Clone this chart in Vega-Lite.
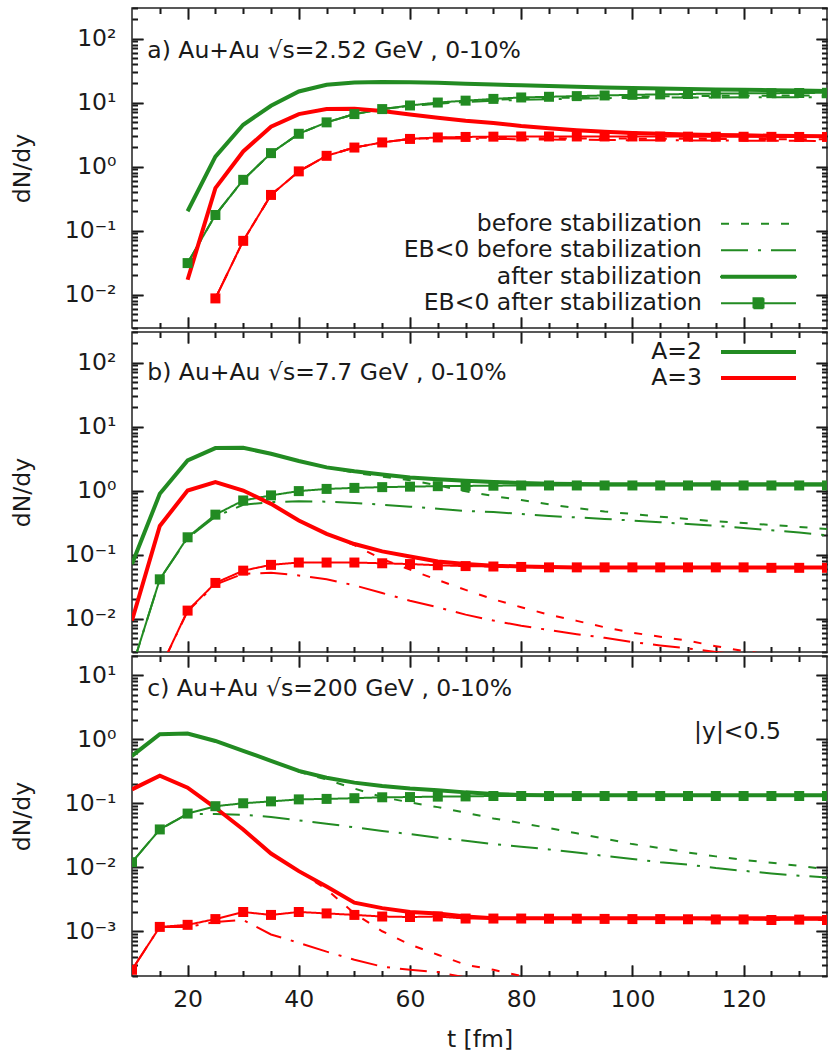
{
  "$schema": "https://vega.github.io/schema/vega-lite/v6.json",
  "background": "white",
  "padding": {"left": 9, "top": 6, "right": 1, "bottom": 4},
  "spacing": 0,
  "config": {
    "font": "DejaVu Sans",
    "view": {"stroke": "#222222", "strokeWidth": 1.5},
    "axis": {"grid": false, "domain": false, "ticks": true, "tickColor": "#1a1a1a", "tickWidth": 1.6, "gridColor": "#1a1a1a", "gridWidth": 1.6, "gridOpacity": 1, "labelFont": "DejaVu Sans", "labelFontSize": 23.5, "labelColor": "#1a1a1a", "titleFont": "DejaVu Sans", "titleFontSize": 23.5, "titleFontWeight": "normal", "titleColor": "#1a1a1a"},
    "legend": {"labelFont": "DejaVu Sans", "labelFontSize": 23.5, "labelColor": "#1a1a1a", "labelLimit": 600, "padding": 0}
  },
  "datasets": {
    "curves": [
      {"p":"a","A":2,"t":20,"a":0.2,"b":0.031,"eb":0.031,"ea":0.031},
      {"p":"a","A":2,"t":25,"a":1.43,"b":0.175,"eb":0.175,"ea":0.175},
      {"p":"a","A":2,"t":30,"a":4.5,"b":0.62,"eb":0.62,"ea":0.62},
      {"p":"a","A":2,"t":35,"a":8.9,"b":1.62,"eb":1.62,"ea":1.62},
      {"p":"a","A":2,"t":40,"a":14.9,"b":3.25,"eb":3.25,"ea":3.25},
      {"p":"a","A":2,"t":45,"a":19,"b":4.9,"eb":4.9,"ea":4.9},
      {"p":"a","A":2,"t":50,"a":20.6,"b":6.6,"eb":6.6,"ea":6.6},
      {"p":"a","A":2,"t":55,"a":21,"b":7.9,"eb":7.9,"ea":7.9},
      {"p":"a","A":2,"t":60,"a":20.8,"b":8.9,"eb":8.8,"ea":9.0},
      {"p":"a","A":2,"t":65,"a":20.3,"b":9.8,"eb":9.6,"ea":10.0},
      {"p":"a","A":2,"t":70,"a":19.7,"b":10.4,"eb":10.2,"ea":10.7},
      {"p":"a","A":2,"t":75,"a":19.1,"b":11.0,"eb":10.7,"ea":11.4},
      {"p":"a","A":2,"t":80,"a":18.6,"b":11.4,"eb":11.0,"ea":12.0},
      {"p":"a","A":2,"t":85,"a":18.1,"b":11.7,"eb":11.3,"ea":12.3},
      {"p":"a","A":2,"t":90,"a":17.6,"b":12.0,"eb":11.5,"ea":12.6},
      {"p":"a","A":2,"t":95,"a":17.2,"b":12.2,"eb":11.7,"ea":12.9},
      {"p":"a","A":2,"t":100,"a":16.9,"b":12.4,"eb":11.8,"ea":13.2},
      {"p":"a","A":2,"t":105,"a":16.6,"b":12.5,"eb":11.9,"ea":13.4},
      {"p":"a","A":2,"t":110,"a":16.3,"b":12.6,"eb":12.0,"ea":13.6},
      {"p":"a","A":2,"t":115,"a":16.0,"b":12.7,"eb":12.0,"ea":13.8},
      {"p":"a","A":2,"t":120,"a":15.8,"b":12.8,"eb":12.1,"ea":13.9},
      {"p":"a","A":2,"t":125,"a":15.6,"b":12.8,"eb":12.1,"ea":14.0},
      {"p":"a","A":2,"t":130,"a":15.4,"b":12.9,"eb":12.1,"ea":14.1},
      {"p":"a","A":2,"t":135,"a":15.2,"b":12.9,"eb":12.1,"ea":14.2},
      {"p":"a","A":3,"t":20,"a":0.017},
      {"p":"a","A":3,"t":25,"a":0.46,"b":0.0087,"eb":0.0087,"ea":0.0087},
      {"p":"a","A":3,"t":30,"a":1.72,"b":0.069,"eb":0.069,"ea":0.069},
      {"p":"a","A":3,"t":35,"a":4.2,"b":0.36,"eb":0.36,"ea":0.36},
      {"p":"a","A":3,"t":40,"a":6.6,"b":0.84,"eb":0.84,"ea":0.84},
      {"p":"a","A":3,"t":45,"a":7.9,"b":1.47,"eb":1.47,"ea":1.47},
      {"p":"a","A":3,"t":50,"a":8.0,"b":1.98,"eb":1.98,"ea":1.98},
      {"p":"a","A":3,"t":55,"a":7.4,"b":2.38,"eb":2.38,"ea":2.38},
      {"p":"a","A":3,"t":60,"a":6.5,"b":2.7,"eb":2.7,"ea":2.7},
      {"p":"a","A":3,"t":65,"a":5.8,"b":2.8,"eb":2.75,"ea":2.85},
      {"p":"a","A":3,"t":70,"a":5.2,"b":2.82,"eb":2.74,"ea":2.9},
      {"p":"a","A":3,"t":75,"a":4.8,"b":2.8,"eb":2.7,"ea":2.93},
      {"p":"a","A":3,"t":80,"a":4.3,"b":2.78,"eb":2.67,"ea":2.95},
      {"p":"a","A":3,"t":85,"a":3.95,"b":2.76,"eb":2.64,"ea":2.95},
      {"p":"a","A":3,"t":90,"a":3.7,"b":2.75,"eb":2.62,"ea":2.95},
      {"p":"a","A":3,"t":95,"a":3.5,"b":2.74,"eb":2.6,"ea":2.95},
      {"p":"a","A":3,"t":100,"a":3.35,"b":2.73,"eb":2.58,"ea":2.95},
      {"p":"a","A":3,"t":105,"a":3.25,"b":2.72,"eb":2.57,"ea":2.94},
      {"p":"a","A":3,"t":110,"a":3.18,"b":2.71,"eb":2.56,"ea":2.93},
      {"p":"a","A":3,"t":115,"a":3.12,"b":2.7,"eb":2.55,"ea":2.92},
      {"p":"a","A":3,"t":120,"a":3.07,"b":2.69,"eb":2.54,"ea":2.92},
      {"p":"a","A":3,"t":125,"a":3.03,"b":2.68,"eb":2.53,"ea":2.91},
      {"p":"a","A":3,"t":130,"a":3.0,"b":2.67,"eb":2.52,"ea":2.9},
      {"p":"a","A":3,"t":135,"a":2.97,"b":2.66,"eb":2.5,"ea":2.9},
      {"p":"b","A":2,"t":10,"a":0.071,"b":0.071,"eb":0.0017,"ea":0.0017},
      {"p":"b","A":2,"t":15,"a":0.89,"b":0.89,"eb":0.041,"ea":0.041},
      {"p":"b","A":2,"t":20,"a":2.95,"b":2.95,"eb":0.18,"ea":0.186},
      {"p":"b","A":2,"t":25,"a":4.6,"b":4.6,"eb":0.39,"ea":0.42},
      {"p":"b","A":2,"t":30,"a":4.65,"b":4.65,"eb":0.6,"ea":0.70},
      {"p":"b","A":2,"t":35,"a":3.75,"b":3.75,"eb":0.66,"ea":0.84},
      {"p":"b","A":2,"t":40,"a":2.9,"b":2.9,"eb":0.68,"ea":0.98},
      {"p":"b","A":2,"t":45,"a":2.3,"b":2.3,"eb":0.67,"ea":1.06},
      {"p":"b","A":2,"t":50,"a":2.0,"b":1.9,"eb":0.64,"ea":1.1},
      {"p":"b","A":2,"t":55,"a":1.78,"b":1.65,"eb":0.6,"ea":1.13},
      {"p":"b","A":2,"t":60,"a":1.6,"b":1.45,"eb":0.56,"ea":1.15},
      {"p":"b","A":2,"t":65,"a":1.5,"b":1.2,"eb":0.52,"ea":1.17},
      {"p":"b","A":2,"t":70,"a":1.42,"b":0.97,"eb":0.48,"ea":1.18},
      {"p":"b","A":2,"t":75,"a":1.36,"b":0.82,"eb":0.46,"ea":1.19},
      {"p":"b","A":2,"t":80,"a":1.31,"b":0.71,"eb":0.43,"ea":1.2},
      {"p":"b","A":2,"t":85,"a":1.28,"b":0.61,"eb":0.4,"ea":1.2},
      {"p":"b","A":2,"t":90,"a":1.26,"b":0.53,"eb":0.38,"ea":1.2},
      {"p":"b","A":2,"t":95,"a":1.25,"b":0.47,"eb":0.36,"ea":1.2},
      {"p":"b","A":2,"t":100,"a":1.25,"b":0.43,"eb":0.34,"ea":1.2},
      {"p":"b","A":2,"t":105,"a":1.25,"b":0.39,"eb":0.32,"ea":1.2},
      {"p":"b","A":2,"t":110,"a":1.25,"b":0.36,"eb":0.3,"ea":1.2},
      {"p":"b","A":2,"t":115,"a":1.25,"b":0.33,"eb":0.28,"ea":1.2},
      {"p":"b","A":2,"t":120,"a":1.25,"b":0.31,"eb":0.26,"ea":1.2},
      {"p":"b","A":2,"t":125,"a":1.25,"b":0.29,"eb":0.24,"ea":1.2},
      {"p":"b","A":2,"t":130,"a":1.25,"b":0.27,"eb":0.22,"ea":1.2},
      {"p":"b","A":2,"t":135,"a":1.25,"b":0.25,"eb":0.2,"ea":1.2},
      {"p":"b","A":3,"t":10,"a":0.0093,"b":0.0093},
      {"p":"b","A":3,"t":15,"a":0.28,"b":0.28,"eb":0.0016,"ea":0.0016},
      {"p":"b","A":3,"t":20,"a":1.0,"b":1.0,"eb":0.013,"ea":0.0133},
      {"p":"b","A":3,"t":25,"a":1.35,"b":1.35,"eb":0.034,"ea":0.036},
      {"p":"b","A":3,"t":30,"a":1.0,"b":1.0,"eb":0.05,"ea":0.056},
      {"p":"b","A":3,"t":35,"a":0.62,"b":0.62,"eb":0.052,"ea":0.069},
      {"p":"b","A":3,"t":40,"a":0.34,"b":0.34,"eb":0.047,"ea":0.075},
      {"p":"b","A":3,"t":45,"a":0.21,"b":0.21,"eb":0.041,"ea":0.075},
      {"p":"b","A":3,"t":50,"a":0.146,"b":0.14,"eb":0.033,"ea":0.075},
      {"p":"b","A":3,"t":55,"a":0.112,"b":0.085,"eb":0.025,"ea":0.073},
      {"p":"b","A":3,"t":60,"a":0.093,"b":0.058,"eb":0.019,"ea":0.071},
      {"p":"b","A":3,"t":65,"a":0.078,"b":0.04,"eb":0.015,"ea":0.068},
      {"p":"b","A":3,"t":70,"a":0.071,"b":0.028,"eb":0.0115,"ea":0.066},
      {"p":"b","A":3,"t":75,"a":0.067,"b":0.02,"eb":0.0093,"ea":0.065},
      {"p":"b","A":3,"t":80,"a":0.065,"b":0.015,"eb":0.0077,"ea":0.064},
      {"p":"b","A":3,"t":85,"a":0.064,"b":0.0115,"eb":0.0066,"ea":0.063},
      {"p":"b","A":3,"t":90,"a":0.063,"b":0.0092,"eb":0.0057,"ea":0.063},
      {"p":"b","A":3,"t":95,"a":0.063,"b":0.0073,"eb":0.005,"ea":0.063},
      {"p":"b","A":3,"t":100,"a":0.063,"b":0.006,"eb":0.0043,"ea":0.063},
      {"p":"b","A":3,"t":105,"a":0.063,"b":0.0052,"eb":0.0038,"ea":0.063},
      {"p":"b","A":3,"t":110,"a":0.063,"b":0.0045,"eb":0.0034,"ea":0.063},
      {"p":"b","A":3,"t":115,"a":0.063,"b":0.0037,"eb":0.003,"ea":0.063},
      {"p":"b","A":3,"t":120,"a":0.063,"b":0.0031,"eb":0.0027,"ea":0.063},
      {"p":"b","A":3,"t":125,"a":0.063,"b":0.0027,"eb":0.0024,"ea":0.062},
      {"p":"b","A":3,"t":130,"a":0.063,"b":0.0024,"eb":0.0021,"ea":0.062},
      {"p":"b","A":3,"t":135,"a":0.063,"b":0.0021,"eb":0.0019,"ea":0.062},
      {"p":"c","A":2,"t":10,"a":0.55,"b":0.55,"eb":0.012,"ea":0.012},
      {"p":"c","A":2,"t":15,"a":1.2,"b":1.2,"eb":0.039,"ea":0.039},
      {"p":"c","A":2,"t":20,"a":1.23,"b":1.23,"eb":0.068,"ea":0.069},
      {"p":"c","A":2,"t":25,"a":0.94,"b":0.94,"eb":0.068,"ea":0.09},
      {"p":"c","A":2,"t":30,"a":0.66,"b":0.66,"eb":0.066,"ea":0.1},
      {"p":"c","A":2,"t":35,"a":0.46,"b":0.46,"eb":0.061,"ea":0.107},
      {"p":"c","A":2,"t":40,"a":0.32,"b":0.31,"eb":0.054,"ea":0.115},
      {"p":"c","A":2,"t":45,"a":0.25,"b":0.235,"eb":0.048,"ea":0.117},
      {"p":"c","A":2,"t":50,"a":0.21,"b":0.17,"eb":0.042,"ea":0.12},
      {"p":"c","A":2,"t":55,"a":0.186,"b":0.125,"eb":0.037,"ea":0.124},
      {"p":"c","A":2,"t":60,"a":0.17,"b":0.103,"eb":0.033,"ea":0.125},
      {"p":"c","A":2,"t":65,"a":0.16,"b":0.087,"eb":0.029,"ea":0.127},
      {"p":"c","A":2,"t":70,"a":0.148,"b":0.071,"eb":0.026,"ea":0.128},
      {"p":"c","A":2,"t":75,"a":0.14,"b":0.058,"eb":0.023,"ea":0.13},
      {"p":"c","A":2,"t":80,"a":0.135,"b":0.049,"eb":0.021,"ea":0.13},
      {"p":"c","A":2,"t":85,"a":0.133,"b":0.041,"eb":0.019,"ea":0.13},
      {"p":"c","A":2,"t":90,"a":0.133,"b":0.034,"eb":0.017,"ea":0.13},
      {"p":"c","A":2,"t":95,"a":0.133,"b":0.028,"eb":0.015,"ea":0.13},
      {"p":"c","A":2,"t":100,"a":0.133,"b":0.023,"eb":0.0135,"ea":0.13},
      {"p":"c","A":2,"t":105,"a":0.133,"b":0.02,"eb":0.012,"ea":0.13},
      {"p":"c","A":2,"t":110,"a":0.133,"b":0.017,"eb":0.011,"ea":0.13},
      {"p":"c","A":2,"t":115,"a":0.133,"b":0.0148,"eb":0.0097,"ea":0.13},
      {"p":"c","A":2,"t":120,"a":0.133,"b":0.013,"eb":0.0088,"ea":0.13},
      {"p":"c","A":2,"t":125,"a":0.133,"b":0.0118,"eb":0.008,"ea":0.13},
      {"p":"c","A":2,"t":130,"a":0.133,"b":0.0105,"eb":0.0074,"ea":0.13},
      {"p":"c","A":2,"t":135,"a":0.133,"b":0.0093,"eb":0.0069,"ea":0.13},
      {"p":"c","A":3,"t":10,"a":0.165,"b":0.165,"eb":0.00025,"ea":0.00025},
      {"p":"c","A":3,"t":15,"a":0.27,"b":0.27,"eb":0.00117,"ea":0.00117},
      {"p":"c","A":3,"t":20,"a":0.175,"b":0.175,"eb":0.00117,"ea":0.00126},
      {"p":"c","A":3,"t":25,"a":0.085,"b":0.085,"eb":0.0014,"ea":0.00155},
      {"p":"c","A":3,"t":30,"a":0.039,"b":0.039,"eb":0.0015,"ea":0.002},
      {"p":"c","A":3,"t":35,"a":0.0164,"b":0.0164,"eb":0.00089,"ea":0.0018},
      {"p":"c","A":3,"t":40,"a":0.0087,"b":0.0087,"eb":0.00066,"ea":0.002},
      {"p":"c","A":3,"t":45,"a":0.005,"b":0.0045,"eb":0.00048,"ea":0.0019},
      {"p":"c","A":3,"t":50,"a":0.0028,"b":0.0019,"eb":0.00036,"ea":0.0018},
      {"p":"c","A":3,"t":55,"a":0.0023,"b":0.001,"eb":0.00028,"ea":0.0017},
      {"p":"c","A":3,"t":60,"a":0.002,"b":0.00062,"eb":0.00025,"ea":0.00167},
      {"p":"c","A":3,"t":65,"a":0.0019,"b":0.00043,"eb":0.00023,"ea":0.0017},
      {"p":"c","A":3,"t":70,"a":0.0017,"b":0.0003,"eb":0.00019,"ea":0.00158},
      {"p":"c","A":3,"t":75,"a":0.0016,"b":0.00025,"eb":0.00016,"ea":0.00158},
      {"p":"c","A":3,"t":80,"a":0.0016,"b":0.0002,"eb":0.00014,"ea":0.00158},
      {"p":"c","A":3,"t":85,"a":0.0016,"b":0.00017,"ea":0.00157},
      {"p":"c","A":3,"t":90,"a":0.0016,"b":0.00015,"ea":0.00157},
      {"p":"c","A":3,"t":95,"a":0.0016,"ea":0.00156},
      {"p":"c","A":3,"t":100,"a":0.0016,"ea":0.00155},
      {"p":"c","A":3,"t":105,"a":0.0016,"ea":0.00155},
      {"p":"c","A":3,"t":110,"a":0.0016,"ea":0.00154},
      {"p":"c","A":3,"t":115,"a":0.0016,"ea":0.00153},
      {"p":"c","A":3,"t":120,"a":0.0016,"ea":0.00153},
      {"p":"c","A":3,"t":125,"a":0.0016,"ea":0.0015},
      {"p":"c","A":3,"t":130,"a":0.0016,"ea":0.00152},
      {"p":"c","A":3,"t":135,"a":0.0016,"ea":0.0015}
    ]
  },
  "resolve": {"scale": {"color": "independent", "stroke": "independent", "strokeDash": "independent"}, "legend": {"color": "independent", "stroke": "independent", "strokeDash": "independent"}},
  "vconcat": [
    {
      "width": 695, "height": 320,
      "resolve": {"axis": {"x": "independent", "y": "independent"}},
      "layer": [
        {
          "data": {"name": "curves"},
          "transform": [{"filter": "datum.p == 'a'"}, {"fold": ["a", "b", "eb", "ea"], "as": ["s", "v"]}, {"filter": "isValid(datum.v) && datum.s != 'a'"}],
          "mark": {"type": "line", "strokeWidth": 2, "clip": true},
          "encoding": {
            "x": {"field": "t", "type": "quantitative", "scale": {"domain": [10, 135], "nice": false, "zero": false}, "axis": {"orient": "bottom", "values": [20, 40, 60, 80, 100, 120], "tickSize": -11, "grid": true, "gridDash": [11, 3000], "labels": false, "title": null}},
            "y": {"field": "v", "type": "quantitative", "scale": {"type": "log", "domain": [0.003, 300], "nice": false}, "axis": {"orient": "left", "values": [0.01, 0.1, 1, 10, 100], "tickSize": -11, "grid": true, "gridDash": [11, 3000], "labelPadding": 27, "labelExpr": "datum.value >= 50 ? '10²' : datum.value >= 5 ? '10¹' : datum.value >= 0.5 ? '10⁰' : datum.value >= 0.05 ? '10⁻¹' : datum.value >= 0.005 ? '10⁻²' : '10⁻³'", "title": "dN/dy", "titlePadding": 30}},
            "color": {"field": "A", "type": "nominal", "scale": {"domain": [2, 3], "range": ["#228b22", "#ff0000"]}, "legend": null},
            "strokeDash": {"field": "s", "type": "nominal", "scale": {"domain": ["b", "eb", "a", "ea"], "range": [[8, 12], [27, 10, 3, 10], [1, 0], [1, 0]]},
              "legend": {
                "orient": "none", "legendX": 614.75, "legendY": 204, "title": null, "padding": 0,
                "symbolType": "M-3.75,0H3.75", "symbolSize": 400, "symbolStrokeWidth": 2, "symbolStrokeColor": "#228b22",
                "labelAlign": "right", "labelOffset": -68.25, "rowPadding": 1.5, "labelLimit": 600,
                "labelExpr": "datum.value == 'b' ? 'before stabilization' : datum.value == 'eb' ? 'EB<0 before stabilization' : datum.value == 'a' ? 'after stabilization' : 'EB<0 after stabilization'",
                "encode": {"symbols": {"update": {
                  "shape": {"signal": "datum.value == 'a' ? 'M-3.75,-0.1H3.75V0.1H-3.75Z' : datum.value == 'ea' ? 'M-3.75,0H3.75M-0.5,-0.5H0.5V0.5H-0.5Z' : 'M-3.75,0H3.75'"},
                  "fill": {"signal": "datum.value == 'a' || datum.value == 'ea' ? '#228b22' : 'transparent'"},
                  "stroke": {"value": "#228b22"},
                  "opacity": {"value": 1}
                }}}
              }
            }
          }
        },
        {
          "data": {"name": "curves"},
          "transform": [{"filter": "datum.p == 'a'"}, {"fold": ["a", "b", "eb", "ea"], "as": ["s", "v"]}, {"filter": "isValid(datum.v) && datum.s == 'a'"}],
          "mark": {"type": "line", "strokeWidth": 4, "clip": true},
          "encoding": {
            "x": {"field": "t", "type": "quantitative", "scale": {"domain": [10, 135], "nice": false, "zero": false}, "axis": {"orient": "top", "values": [20, 40, 60, 80, 100, 120], "tickSize": -11, "grid": true, "gridDash": [11, 3000], "labels": false, "title": null}},
            "y": {"field": "v", "type": "quantitative", "scale": {"type": "log", "domain": [0.003, 300], "nice": false}, "axis": {"orient": "right", "values": [0.01, 0.1, 1, 10, 100], "tickSize": -11, "grid": true, "gridDash": [11, 3000], "labels": false, "title": null}},
            "color": {"field": "A", "type": "nominal", "scale": {"domain": [2, 3], "range": ["#228b22", "#ff0000"]}, "legend": null}
          }
        },
        {
          "data": {"name": "curves"},
          "transform": [{"filter": "datum.p == 'a'"}, {"fold": ["a", "b", "eb", "ea"], "as": ["s", "v"]}, {"filter": "isValid(datum.v) && datum.s == 'ea'"}],
          "mark": {"type": "point", "shape": "square", "filled": true, "size": 100, "opacity": 1, "clip": true},
          "encoding": {
            "x": {"field": "t", "type": "quantitative", "scale": {"domain": [10, 135], "nice": false, "zero": false}, "axis": {"orient": "bottom", "values": [15, 25, 30, 35, 45, 50, 55, 65, 70, 75, 85, 90, 95, 105, 110, 115, 125, 130], "tickSize": -5.5, "grid": true, "gridDash": [5.5, 3000], "labels": false, "title": null}},
            "y": {"field": "v", "type": "quantitative", "scale": {"type": "log", "domain": [0.003, 300], "nice": false}, "axis": {"orient": "left", "values": [0.003, 0.004, 0.005, 0.006, 0.007, 0.008, 0.009, 0.02, 0.03, 0.04, 0.05, 0.06, 0.07, 0.08, 0.09, 0.2, 0.3, 0.4, 0.5, 0.6, 0.7, 0.8, 0.9, 2, 3, 4, 5, 6, 7, 8, 9, 20, 30, 40, 50, 60, 70, 80, 90, 200, 300], "tickSize": -5.5, "grid": true, "gridDash": [5.5, 3000], "labels": false, "title": null}},
            "color": {"field": "A", "type": "nominal", "scale": {"domain": [2, 3], "range": ["#228b22", "#ff0000"]}, "legend": null}
          }
        },
        {
          "data": {"name": "curves"},
          "transform": [{"filter": "datum.p == 'a'"}, {"fold": ["a", "b", "eb", "ea"], "as": ["s", "v"]}, {"filter": "isValid(datum.v) && datum.s == 'ea'"}],
          "mark": {"type": "point", "opacity": 0, "clip": true},
          "encoding": {
            "x": {"field": "t", "type": "quantitative", "scale": {"domain": [10, 135], "nice": false, "zero": false}, "axis": {"orient": "top", "values": [15, 25, 30, 35, 45, 50, 55, 65, 70, 75, 85, 90, 95, 105, 110, 115, 125, 130], "tickSize": -5.5, "grid": true, "gridDash": [5.5, 3000], "labels": false, "title": null}},
            "y": {"field": "v", "type": "quantitative", "scale": {"type": "log", "domain": [0.003, 300], "nice": false}, "axis": {"orient": "right", "values": [0.003, 0.004, 0.005, 0.006, 0.007, 0.008, 0.009, 0.02, 0.03, 0.04, 0.05, 0.06, 0.07, 0.08, 0.09, 0.2, 0.3, 0.4, 0.5, 0.6, 0.7, 0.8, 0.9, 2, 3, 4, 5, 6, 7, 8, 9, 20, 30, 40, 50, 60, 70, 80, 90, 200, 300], "tickSize": -5.5, "grid": true, "gridDash": [5.5, 3000], "labels": false, "title": null}}
          }
        },
        {
          "data": {"values": [{}]},
          "mark": {"type": "text", "align": "left", "baseline": "alphabetic", "fontSize": 23.5, "font": "DejaVu Sans", "color": "#1a1a1a"},
          "encoding": {
            "x": {"datum": 12.75, "type": "quantitative", "scale": {"domain": [10, 135], "nice": false, "zero": false}, "axis": null},
            "y": {"datum": 50.5, "type": "quantitative", "scale": {"type": "log", "domain": [0.003, 300], "nice": false}, "axis": null},
            "text": {"value": "a) Au+Au √s=2.52 GeV , 0-10%"}
          }
        }
      ]
    },
    {
      "width": 695, "height": 320,
      "resolve": {"axis": {"x": "independent", "y": "independent"}},
      "layer": [
        {
          "data": {"name": "curves"},
          "transform": [{"filter": "datum.p == 'b'"}, {"fold": ["a", "b", "eb", "ea"], "as": ["s", "v"]}, {"filter": "isValid(datum.v) && datum.s != 'a'"}],
          "mark": {"type": "line", "strokeWidth": 2, "clip": true},
          "encoding": {
            "x": {"field": "t", "type": "quantitative", "scale": {"domain": [10, 135], "nice": false, "zero": false}, "axis": {"orient": "bottom", "values": [20, 40, 60, 80, 100, 120], "tickSize": -11, "grid": true, "gridDash": [11, 3000], "labels": false, "title": null}},
            "y": {"field": "v", "type": "quantitative", "scale": {"type": "log", "domain": [0.003, 300], "nice": false}, "axis": {"orient": "left", "values": [0.01, 0.1, 1, 10, 100], "tickSize": -11, "grid": true, "gridDash": [11, 3000], "labelPadding": 27, "labelExpr": "datum.value >= 50 ? '10²' : datum.value >= 5 ? '10¹' : datum.value >= 0.5 ? '10⁰' : datum.value >= 0.05 ? '10⁻¹' : datum.value >= 0.005 ? '10⁻²' : '10⁻³'", "title": "dN/dy", "titlePadding": 30}},
            "color": {"field": "A", "type": "nominal", "scale": {"domain": [2, 3], "range": ["#228b22", "#ff0000"]}, "legend": null},
            "strokeDash": {"field": "s", "type": "nominal", "scale": {"domain": ["b", "eb", "a", "ea"], "range": [[8, 12], [27, 10, 3, 10], [1, 0], [1, 0]]}, "legend": null}
          }
        },
        {
          "data": {"name": "curves"},
          "transform": [{"filter": "datum.p == 'b'"}, {"fold": ["a", "b", "eb", "ea"], "as": ["s", "v"]}, {"filter": "isValid(datum.v) && datum.s == 'a'"}],
          "mark": {"type": "line", "strokeWidth": 4, "clip": true},
          "encoding": {
            "x": {"field": "t", "type": "quantitative", "scale": {"domain": [10, 135], "nice": false, "zero": false}, "axis": {"orient": "top", "values": [20, 40, 60, 80, 100, 120], "tickSize": -11, "grid": true, "gridDash": [11, 3000], "labels": false, "title": null}},
            "y": {"field": "v", "type": "quantitative", "scale": {"type": "log", "domain": [0.003, 300], "nice": false}, "axis": {"orient": "right", "values": [0.01, 0.1, 1, 10, 100], "tickSize": -11, "grid": true, "gridDash": [11, 3000], "labels": false, "title": null}},
            "stroke": {"field": "A", "type": "nominal", "scale": {"range": ["#228b22", "#ff0000"]},
              "legend": {
                "orient": "none", "legendX": 614.5, "legendY": 8, "title": null, "padding": 0,
                "symbolType": "M-3.75,0H3.75", "symbolSize": 400, "symbolStrokeWidth": 4,
                "labelAlign": "right", "labelOffset": -68.5, "rowPadding": 2, "labelLimit": 600,
                "labelExpr": "'A=' + datum.label"
              }
            }
          }
        },
        {
          "data": {"name": "curves"},
          "transform": [{"filter": "datum.p == 'b'"}, {"fold": ["a", "b", "eb", "ea"], "as": ["s", "v"]}, {"filter": "isValid(datum.v) && datum.s == 'ea'"}],
          "mark": {"type": "point", "shape": "square", "filled": true, "size": 100, "opacity": 1, "clip": true},
          "encoding": {
            "x": {"field": "t", "type": "quantitative", "scale": {"domain": [10, 135], "nice": false, "zero": false}, "axis": {"orient": "bottom", "values": [15, 25, 30, 35, 45, 50, 55, 65, 70, 75, 85, 90, 95, 105, 110, 115, 125, 130], "tickSize": -5.5, "grid": true, "gridDash": [5.5, 3000], "labels": false, "title": null}},
            "y": {"field": "v", "type": "quantitative", "scale": {"type": "log", "domain": [0.003, 300], "nice": false}, "axis": {"orient": "left", "values": [0.003, 0.004, 0.005, 0.006, 0.007, 0.008, 0.009, 0.02, 0.03, 0.04, 0.05, 0.06, 0.07, 0.08, 0.09, 0.2, 0.3, 0.4, 0.5, 0.6, 0.7, 0.8, 0.9, 2, 3, 4, 5, 6, 7, 8, 9, 20, 30, 40, 50, 60, 70, 80, 90, 200, 300], "tickSize": -5.5, "grid": true, "gridDash": [5.5, 3000], "labels": false, "title": null}},
            "color": {"field": "A", "type": "nominal", "scale": {"domain": [2, 3], "range": ["#228b22", "#ff0000"]}, "legend": null}
          }
        },
        {
          "data": {"name": "curves"},
          "transform": [{"filter": "datum.p == 'b'"}, {"fold": ["a", "b", "eb", "ea"], "as": ["s", "v"]}, {"filter": "isValid(datum.v) && datum.s == 'ea'"}],
          "mark": {"type": "point", "opacity": 0, "clip": true},
          "encoding": {
            "x": {"field": "t", "type": "quantitative", "scale": {"domain": [10, 135], "nice": false, "zero": false}, "axis": {"orient": "top", "values": [15, 25, 30, 35, 45, 50, 55, 65, 70, 75, 85, 90, 95, 105, 110, 115, 125, 130], "tickSize": -5.5, "grid": true, "gridDash": [5.5, 3000], "labels": false, "title": null}},
            "y": {"field": "v", "type": "quantitative", "scale": {"type": "log", "domain": [0.003, 300], "nice": false}, "axis": {"orient": "right", "values": [0.003, 0.004, 0.005, 0.006, 0.007, 0.008, 0.009, 0.02, 0.03, 0.04, 0.05, 0.06, 0.07, 0.08, 0.09, 0.2, 0.3, 0.4, 0.5, 0.6, 0.7, 0.8, 0.9, 2, 3, 4, 5, 6, 7, 8, 9, 20, 30, 40, 50, 60, 70, 80, 90, 200, 300], "tickSize": -5.5, "grid": true, "gridDash": [5.5, 3000], "labels": false, "title": null}}
          }
        },
        {
          "data": {"values": [{}]},
          "mark": {"type": "text", "align": "left", "baseline": "alphabetic", "fontSize": 23.5, "font": "DejaVu Sans", "color": "#1a1a1a"},
          "encoding": {
            "x": {"datum": 12.75, "type": "quantitative", "scale": {"domain": [10, 135], "nice": false, "zero": false}, "axis": null},
            "y": {"datum": 54, "type": "quantitative", "scale": {"type": "log", "domain": [0.003, 300], "nice": false}, "axis": null},
            "text": {"value": "b) Au+Au √s=7.7 GeV , 0-10%"}
          }
        }
      ]
    },
    {
      "width": 695, "height": 320,
      "resolve": {"axis": {"x": "independent", "y": "independent"}},
      "layer": [
        {
          "data": {"name": "curves"},
          "transform": [{"filter": "datum.p == 'c'"}, {"fold": ["a", "b", "eb", "ea"], "as": ["s", "v"]}, {"filter": "isValid(datum.v) && datum.s != 'a'"}],
          "mark": {"type": "line", "strokeWidth": 2, "clip": true},
          "encoding": {
            "x": {"field": "t", "type": "quantitative", "scale": {"domain": [10, 135], "nice": false, "zero": false}, "axis": {"orient": "bottom", "values": [20, 40, 60, 80, 100, 120], "tickSize": -11, "grid": true, "gridDash": [11, 3000], "labelPadding": 22, "labelFlush": false, "title": "t [fm]", "titlePadding": 17}},
            "y": {"field": "v", "type": "quantitative", "scale": {"type": "log", "domain": [0.0002, 20], "nice": false}, "axis": {"orient": "left", "values": [0.001, 0.01, 0.1, 1, 10], "tickSize": -11, "grid": true, "gridDash": [11, 3000], "labelPadding": 27, "labelExpr": "datum.value >= 50 ? '10²' : datum.value >= 5 ? '10¹' : datum.value >= 0.5 ? '10⁰' : datum.value >= 0.05 ? '10⁻¹' : datum.value >= 0.005 ? '10⁻²' : '10⁻³'", "title": "dN/dy", "titlePadding": 30}},
            "color": {"field": "A", "type": "nominal", "scale": {"domain": [2, 3], "range": ["#228b22", "#ff0000"]}, "legend": null},
            "strokeDash": {"field": "s", "type": "nominal", "scale": {"domain": ["b", "eb", "a", "ea"], "range": [[8, 12], [27, 10, 3, 10], [1, 0], [1, 0]]}, "legend": null}
          }
        },
        {
          "data": {"name": "curves"},
          "transform": [{"filter": "datum.p == 'c'"}, {"fold": ["a", "b", "eb", "ea"], "as": ["s", "v"]}, {"filter": "isValid(datum.v) && datum.s == 'a'"}],
          "mark": {"type": "line", "strokeWidth": 4, "clip": true},
          "encoding": {
            "x": {"field": "t", "type": "quantitative", "scale": {"domain": [10, 135], "nice": false, "zero": false}, "axis": {"orient": "top", "values": [20, 40, 60, 80, 100, 120], "tickSize": -11, "grid": true, "gridDash": [11, 3000], "labels": false, "title": null}},
            "y": {"field": "v", "type": "quantitative", "scale": {"type": "log", "domain": [0.0002, 20], "nice": false}, "axis": {"orient": "right", "values": [0.001, 0.01, 0.1, 1, 10], "tickSize": -11, "grid": true, "gridDash": [11, 3000], "labels": false, "title": null}},
            "color": {"field": "A", "type": "nominal", "scale": {"domain": [2, 3], "range": ["#228b22", "#ff0000"]}, "legend": null}
          }
        },
        {
          "data": {"name": "curves"},
          "transform": [{"filter": "datum.p == 'c'"}, {"fold": ["a", "b", "eb", "ea"], "as": ["s", "v"]}, {"filter": "isValid(datum.v) && datum.s == 'ea'"}],
          "mark": {"type": "point", "shape": "square", "filled": true, "size": 100, "opacity": 1, "clip": true},
          "encoding": {
            "x": {"field": "t", "type": "quantitative", "scale": {"domain": [10, 135], "nice": false, "zero": false}, "axis": {"orient": "bottom", "values": [15, 25, 30, 35, 45, 50, 55, 65, 70, 75, 85, 90, 95, 105, 110, 115, 125, 130], "tickSize": -5.5, "grid": true, "gridDash": [5.5, 3000], "labels": false, "title": null}},
            "y": {"field": "v", "type": "quantitative", "scale": {"type": "log", "domain": [0.0002, 20], "nice": false}, "axis": {"orient": "left", "values": [0.0002, 0.0003, 0.0004, 0.0005, 0.0006, 0.0007, 0.0008, 0.0009, 0.002, 0.003, 0.004, 0.005, 0.006, 0.007, 0.008, 0.009, 0.02, 0.03, 0.04, 0.05, 0.06, 0.07, 0.08, 0.09, 0.2, 0.3, 0.4, 0.5, 0.6, 0.7, 0.8, 0.9, 2, 3, 4, 5, 6, 7, 8, 9, 20], "tickSize": -5.5, "grid": true, "gridDash": [5.5, 3000], "labels": false, "title": null}},
            "color": {"field": "A", "type": "nominal", "scale": {"domain": [2, 3], "range": ["#228b22", "#ff0000"]}, "legend": null}
          }
        },
        {
          "data": {"name": "curves"},
          "transform": [{"filter": "datum.p == 'c'"}, {"fold": ["a", "b", "eb", "ea"], "as": ["s", "v"]}, {"filter": "isValid(datum.v) && datum.s == 'ea'"}],
          "mark": {"type": "point", "opacity": 0, "clip": true},
          "encoding": {
            "x": {"field": "t", "type": "quantitative", "scale": {"domain": [10, 135], "nice": false, "zero": false}, "axis": {"orient": "top", "values": [15, 25, 30, 35, 45, 50, 55, 65, 70, 75, 85, 90, 95, 105, 110, 115, 125, 130], "tickSize": -5.5, "grid": true, "gridDash": [5.5, 3000], "labels": false, "title": null}},
            "y": {"field": "v", "type": "quantitative", "scale": {"type": "log", "domain": [0.0002, 20], "nice": false}, "axis": {"orient": "right", "values": [0.0002, 0.0003, 0.0004, 0.0005, 0.0006, 0.0007, 0.0008, 0.0009, 0.002, 0.003, 0.004, 0.005, 0.006, 0.007, 0.008, 0.009, 0.02, 0.03, 0.04, 0.05, 0.06, 0.07, 0.08, 0.09, 0.2, 0.3, 0.4, 0.5, 0.6, 0.7, 0.8, 0.9, 2, 3, 4, 5, 6, 7, 8, 9, 20], "tickSize": -5.5, "grid": true, "gridDash": [5.5, 3000], "labels": false, "title": null}}
          }
        },
        {
          "data": {"values": [{}]},
          "mark": {"type": "text", "align": "left", "baseline": "alphabetic", "fontSize": 23.5, "font": "DejaVu Sans", "color": "#1a1a1a"},
          "encoding": {
            "x": {"datum": 12.75, "type": "quantitative", "scale": {"domain": [10, 135], "nice": false, "zero": false}, "axis": null},
            "y": {"datum": 4.8, "type": "quantitative", "scale": {"type": "log", "domain": [0.0002, 20], "nice": false}, "axis": null},
            "text": {"value": "c) Au+Au √s=200 GeV , 0-10%"}
          }
        },
        {
          "data": {"values": [{}]},
          "mark": {"type": "text", "align": "left", "baseline": "alphabetic", "fontSize": 23.5, "font": "DejaVu Sans", "color": "#1a1a1a"},
          "encoding": {
            "x": {"datum": 111.1, "type": "quantitative", "scale": {"domain": [10, 135], "nice": false, "zero": false}, "axis": null},
            "y": {"datum": 1.0, "type": "quantitative", "scale": {"type": "log", "domain": [0.0002, 20], "nice": false}, "axis": null},
            "text": {"value": "|y|<0.5"}
          }
        }
      ]
    }
  ]
}
